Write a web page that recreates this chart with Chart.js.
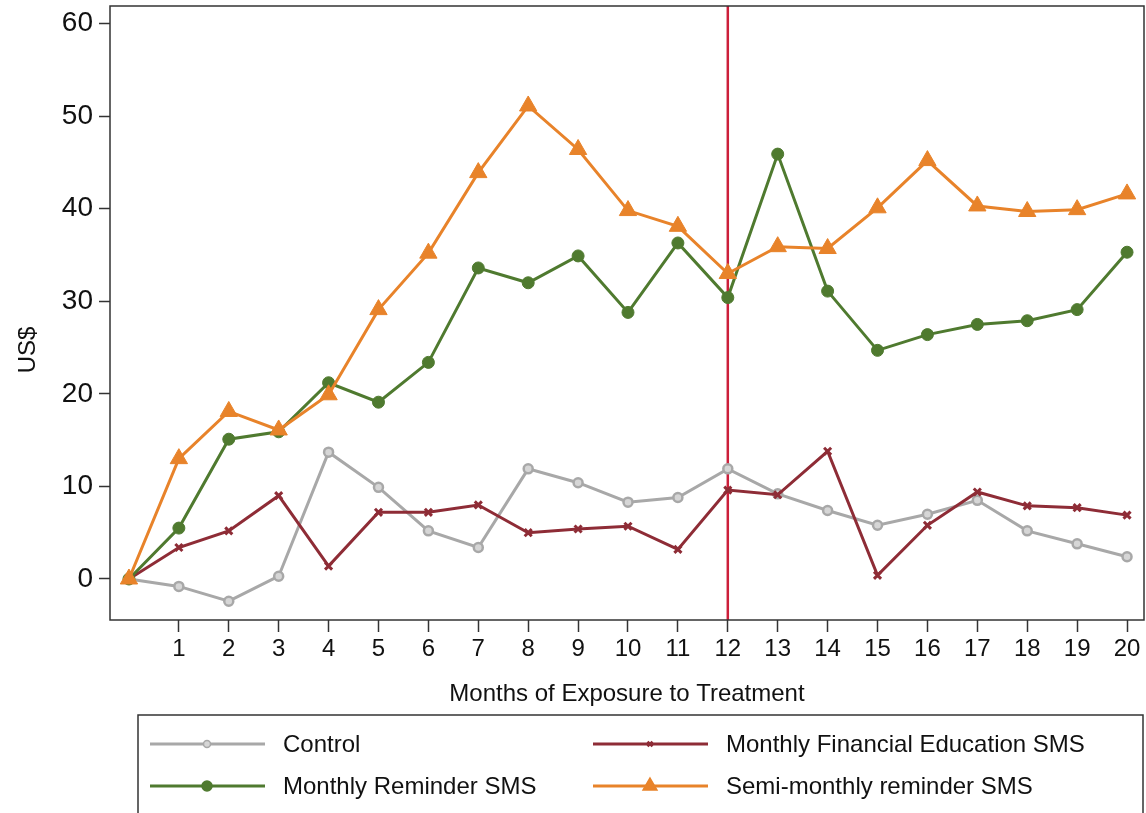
<!DOCTYPE html>
<html>
<head>
<meta charset="utf-8">
<title>Savings by months of exposure</title>
<script src="https://cdn.jsdelivr.net/npm/chart.js@4/dist/chart.umd.min.js"></script>
<style>
  html, body { margin: 0; padding: 0; background: #fff; }
  #wrap { width: 1146px; height: 813px; position: relative; }
</style>
</head>
<body>
<div id="wrap"><canvas id="chart"></canvas></div>
<script>
  const months = [0, 1, 2, 3, 4, 5, 6, 7, 8, 9, 10, 11, 12, 13, 14, 15, 16, 17, 18, 19, 20];
  const control = [0, -0.8, -2.4, 0.3, 13.7, 9.9, 5.2, 3.4, 11.9, 10.4, 8.3, 8.8, 11.9, 9.2, 7.4, 5.8, 7.0, 8.5, 5.2, 3.8, 2.4];
  const finEducation = [0, 3.4, 5.2, 9.0, 1.4, 7.2, 7.2, 8.0, 5.0, 5.4, 5.7, 3.2, 9.6, 9.1, 13.8, 0.4, 5.8, 9.4, 7.9, 7.7, 6.9];
  const monthlyReminder = [0, 5.5, 15.1, 15.9, 21.2, 19.1, 23.4, 33.6, 32.0, 34.9, 28.8, 36.3, 30.4, 45.9, 31.1, 24.7, 26.4, 27.5, 27.9, 29.1, 35.3];
  const semiMonthly = [0, 13.0, 18.1, 16.1, 19.9, 29.1, 35.2, 43.9, 51.1, 46.4, 39.8, 38.1, 33.0, 35.9, 35.7, 40.1, 45.2, 40.3, 39.7, 39.9, 41.6];
  const xTicks = [1, 2, 3, 4, 5, 6, 7, 8, 9, 10, 11, 12, 13, 14, 15, 16, 17, 18, 19, 20];
  const yTicks = [0, 10, 20, 30, 40, 50, 60];
  const treatmentEnd = 12;

  const seriesNames = ["Control", "Monthly Financial Education SMS", "Monthly Reminder SMS", "Semi-monthly reminder SMS"];
  const FONT = "'Liberation Sans', Arial, Helvetica, sans-serif";

  function points(values) {
    return months.map((m, i) => ({ x: m, y: values[i] }));
  }

  const datasets = [
    {
      label: seriesNames[0], data: points(control), order: 4,
      borderColor: "#a8a8a8", borderWidth: 3,
      pointStyle: "circle", pointRadius: 4.5, pointBorderWidth: 2.5,
      pointBorderColor: "#a8a8a8", pointBackgroundColor: "#d6d6d6"
    },
    {
      label: seriesNames[1], data: points(finEducation), order: 3,
      borderColor: "#8e2c36", borderWidth: 3,
      pointStyle: "crossRot", pointRadius: 5, pointBorderWidth: 3,
      pointBorderColor: "#8e2c36", pointBackgroundColor: "#8e2c36"
    },
    {
      label: seriesNames[2], data: points(monthlyReminder), order: 2,
      borderColor: "#4f7a2f", borderWidth: 3,
      pointStyle: "circle", pointRadius: 6, pointBorderWidth: 1,
      pointBorderColor: "#4f7a2f", pointBackgroundColor: "#4f7a2f"
    },
    {
      label: seriesNames[3], data: points(semiMonthly), order: 1,
      borderColor: "#e8832a", borderWidth: 3,
      pointStyle: "triangle", pointRadius: 10, pointBorderWidth: 1,
      pointBorderColor: "#e8832a", pointBackgroundColor: "#e8832a"
    }
  ];

  // frame, treatment line, y title and the boxed legend
  const extras = {
    id: "extras",
    beforeDatasetsDraw(chart) {
      const { ctx, chartArea: a, scales } = chart;
      const xp = scales.x.getPixelForValue(treatmentEnd);
      ctx.save();
      ctx.strokeStyle = "#cc1f3a";
      ctx.lineWidth = 2.5;
      ctx.beginPath();
      ctx.moveTo(xp, a.top);
      ctx.lineTo(xp, a.bottom);
      ctx.stroke();
      ctx.strokeStyle = "#333";
      ctx.lineWidth = 1.5;
      ctx.strokeRect(a.left, a.top, a.right - a.left, a.bottom - a.top);
      ctx.restore();
    },
    afterDraw(chart) {
      const ctx = chart.ctx;
      ctx.save();
      // y axis title
      ctx.fillStyle = "#111";
      ctx.font = "24px " + FONT;
      ctx.textAlign = "center";
      ctx.textBaseline = "middle";
      ctx.translate(28, 350);
      ctx.rotate(-Math.PI / 2);
      ctx.fillText("US$", 0, 0);
      ctx.restore();

      // legend
      ctx.save();
      ctx.strokeStyle = "#333";
      ctx.lineWidth = 1.5;
      ctx.strokeRect(138, 715, 1005, 130);
      const slots = [
        { x: 150, y: 744 }, { x: 593, y: 744 },
        { x: 150, y: 786 }, { x: 593, y: 786 }
      ];
      const legendRadius = [3.5, 3.5, 5, 8];
      datasets.forEach((ds, i) => {
        const s = slots[i];
        ctx.strokeStyle = ds.borderColor;
        ctx.lineWidth = 3;
        ctx.beginPath();
        ctx.moveTo(s.x, s.y);
        ctx.lineTo(s.x + 115, s.y);
        ctx.stroke();
        ctx.fillStyle = ds.pointBackgroundColor;
        ctx.strokeStyle = ds.pointBorderColor;
        ctx.lineWidth = i === 1 ? 2.5 : 1.5;
        Chart.helpers.drawPoint(ctx, { pointStyle: ds.pointStyle, radius: legendRadius[i], borderWidth: ctx.lineWidth, rotation: 0 }, s.x + 57, s.y);
        ctx.fillStyle = "#111";
        ctx.font = "24px " + FONT;
        ctx.textAlign = "left";
        ctx.textBaseline = "middle";
        ctx.fillText(ds.label, s.x + 133, s.y + 1);
      });
      ctx.restore();
    }
  };

  new Chart(document.getElementById("chart"), {
    type: "line",
    data: { datasets },
    options: {
      responsive: true,
      maintainAspectRatio: false,
      animation: false,
      layout: { autoPadding: false, padding: { left: 0, right: 2, top: 6, bottom: 103 } },
      plugins: { legend: { display: false }, tooltip: { enabled: false } },
      elements: { line: { tension: 0 } },
      scales: {
        x: {
          type: "linear", min: -0.38, max: 20.34,
          border: { display: false },
          grid: { drawOnChartArea: false, drawTicks: true, tickLength: 12, tickColor: "#333", tickWidth: 1.5 },
          afterBuildTicks: (scale) => { scale.ticks = xTicks.map(v => ({ value: v })); },
          afterFit: (scale) => { scale.height = 90; scale.paddingLeft = 0; scale.paddingRight = 0; },
          ticks: { color: "#111", font: { family: FONT, size: 24 }, padding: 3, maxRotation: 0, autoSkip: false },
          title: { display: true, text: "Months of Exposure to Treatment", color: "#111", font: { family: FONT, size: 24 }, padding: { top: 0, bottom: 1 } }
        },
        y: {
          type: "linear", min: -4.43, max: 61.9,
          border: { display: false },
          grid: { drawOnChartArea: false, drawTicks: true, tickLength: 11, tickColor: "#333", tickWidth: 1.5 },
          afterBuildTicks: (scale) => { scale.ticks = yTicks.map(v => ({ value: v })); },
          afterFit: (scale) => { scale.width = 110; scale.paddingTop = 0; scale.paddingBottom = 0; },
          ticks: { color: "#111", font: { family: FONT, size: 28 }, padding: 6 }
        }
      }
    },
    plugins: [extras]
  });
</script>
</body>
</html>
